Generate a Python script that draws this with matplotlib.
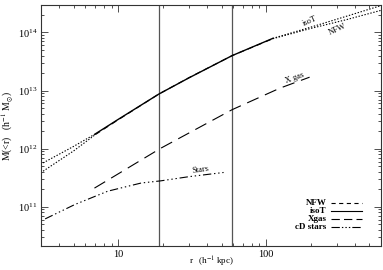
import matplotlib
matplotlib.use('Agg')
import matplotlib.pyplot as plt

plt.rcParams['font.family'] = ['Liberation Serif', 'DejaVu Serif']
plt.rcParams['mathtext.fontset'] = 'stix'
plt.rcParams['lines.scale_dashes'] = False

# fitted range (isoT solid, NFW dashed on top of each other)
r_fit = [7, 10, 18.8, 30, 59, 111]
isot_fit = [1.8e12, 3.2e12, 8.7e12, 1.65e13, 4.0e13, 7.9e13]
nfw_fit = [1.75e12, 3.15e12, 8.7e12, 1.66e13, 4.0e13, 7.8e13]

# extrapolations (dotted)
r_in = [3.1, 5, 7]
isot_in = [5.7e11, 1.1e12, 1.8e12]
nfw_in = [4.1e11, 9.2e11, 1.75e12]
r_out = [111, 200, 350, 600]
isot_out = [7.9e13, 1.23e14, 1.9e14, 2.9e14]
nfw_out = [7.8e13, 1.17e14, 1.66e14, 2.4e14]

# X-ray gas
r_gas = [6.9, 10, 19.4, 59, 124, 197]
m_gas = [2.1e11, 3.7e11, 1.02e12, 4.7e12, 1.1e13, 1.7e13]

# cD stars
r_stars = [3.2, 5.1, 8.5, 14.3, 19.4, 30, 51.6]
m_stars = [6.2e10, 1.1e11, 1.86e11, 2.57e11, 2.8e11, 3.3e11, 3.9e11]

r_vlines = [18.8, 59]

fig = plt.figure(figsize=(3.83, 2.70), dpi=100)
ax = fig.add_axes([0.107, 0.088, 0.888, 0.893])

for rv in r_vlines:
    ax.axvline(rv, color='#555555', lw=0.9)

dot = (1, 1.2)
ax.plot(r_in, isot_in, color='k', lw=0.8, dashes=dot)
ax.plot(r_in, nfw_in, color='k', lw=0.8, dashes=dot)
ax.plot(r_out, isot_out, color='k', lw=0.8, dashes=dot)
ax.plot(r_out, nfw_out, color='k', lw=0.8, dashes=dot)
ax.plot(r_fit, isot_fit, color='k', lw=1.0)
ax.plot(r_fit, nfw_fit, color='k', lw=0.8, dashes=(4, 3))
ax.plot(r_gas, m_gas, color='k', lw=0.8, dashes=(9, 5))
ax.plot(r_stars, m_stars, color='k', lw=0.8, dashes=(6, 2, 1, 2, 1, 2, 1, 2))

ax.set_xscale('log')
ax.set_yscale('log')
ax.set_xlim(3.0, 600)
ax.set_ylim(2.1e10, 2.95e14)

ax.tick_params(which='both', direction='in', top=True, right=True,
               labelsize=7.5, width=0.6, color='#333333', pad=2.5)
ax.tick_params(which='major', length=5)
ax.tick_params(which='minor', length=2.5)
ax.set_xticks([10, 100])
ax.set_xticklabels(['10', '100'])
for s in ax.spines.values():
    s.set_linewidth(0.8)
    s.set_color('#333333')

ax.set_xlabel(r'r   (h$^{-1}$ kpc)', fontsize=6.5)
ax.xaxis.set_label_coords(0.5, -0.035)
ax.set_ylabel(r'M(<r)   (h$^{-1}$ M$_{\odot}$)', fontsize=7, labelpad=2)

# curve labels
ax.text(0.79, 0.935, 'isoT', transform=ax.transAxes, fontsize=6, rotation=24,
        ha='center', va='center')
ax.text(0.87, 0.90, 'NFW', transform=ax.transAxes, fontsize=6, rotation=24,
        ha='center', va='center')
ax.text(0.745, 0.70, 'X gas', transform=ax.transAxes, fontsize=6, rotation=20,
        ha='center', va='center')
ax.text(0.47, 0.315, 'Stars', transform=ax.transAxes, fontsize=6, rotation=8,
        ha='center', va='center')

# legend drawn by hand
names = ['NFW', 'isoT', 'Xgas', 'cD stars']
styles = [dict(dashes=(3, 2.5)), dict(), dict(dashes=(6, 3)),
          dict(dashes=(6, 1.5, 1, 1.5, 1, 1.5, 1, 1.5))]
ys = [0.181, 0.148, 0.114, 0.081]
for name, st, yy in zip(names, styles, ys):
    ax.text(0.840, yy, name, transform=ax.transAxes, fontsize=6.5,
            ha='right', va='center', fontweight='bold')
    ax.plot([0.852, 0.943], [yy, yy], transform=ax.transAxes, color='k',
            lw=0.8, **st)

fig.savefig('out.png', dpi=100)
